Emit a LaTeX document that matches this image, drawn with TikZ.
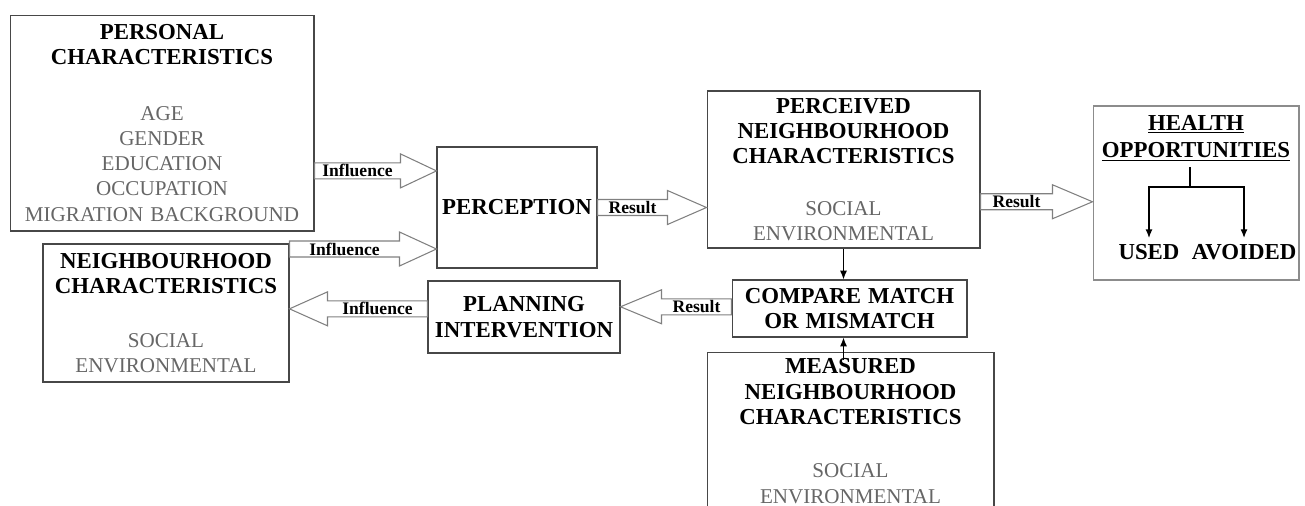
\documentclass[tikz,border=0pt]{standalone}
\usepackage{fontspec}
\setmainfont{Liberation Serif}
\usepackage{tikz}
\usetikzlibrary{arrows.meta,calc}

\definecolor{itemgray}{gray}{0.4}
\newcommand{\boxhead}{\fontsize{13}{14.4}\selectfont\bfseries\color{black}}
\newcommand{\boxitems}{\fontsize{12}{14.4}\selectfont\mdseries\color{itemgray}}

\tikzset{
  box/.style={draw=black!72, line width=0.6pt, inner sep=0pt, align=center,
    font=\fontsize{12}{14.4}\selectfont},
  fatarr/.style={draw=black!50, fill=white, line width=0.6pt},
  fatlbl/.style={inner sep=0pt, font=\fontsize{10}{12}\selectfont\bfseries},
  lbl/.style={font=\fontsize{13}{14.4}\selectfont\bfseries},
}

% block arrow: tail anchor, tip coordinate, head length (- right, + left), label
\newcommand{\fat}[4]{%
  \draw[fatarr] ($(#1 |- #2)+(0,-8)$) -- node[fatlbl, midway, yshift=-0.16cm] {#4}
    ($(#2)+(#3,-8)$) -- ++(0,-9) -- (#2) -- ($(#2)+(#3,17)$) -- ++(0,-9)
    -- ($(#1 |- #2)+(0,8)$) -- cycle;}

\begin{document}
\begin{tikzpicture}[x=0.02cm, y=-0.02cm, >={Latex[length=5pt,width=4pt]}]
    \useasboundingbox (0,0) rectangle (1305,505);
    \clip (0,0) rectangle (1305,505);

    % boxes
    \node[box, text width=6.08cm, minimum height=4.32cm] (pc) at (162,123)
        {\boxhead PERSONAL\\CHARACTERISTICS\\[17pt]\boxitems AGE\\GENDER\\EDUCATION\\OCCUPATION\\MIGRATION BACKGROUND};
    \node[box, text width=3.2cm, minimum height=2.42cm] (pe) at (517,207.5) {\boxhead PERCEPTION};
    \node[box, text width=5.46cm, minimum height=3.14cm] (pn) at (843.5,169.5)
        {\boxhead PERCEIVED\\NEIGHBOURHOOD\\CHARACTERISTICS\\[15pt]\boxitems SOCIAL\\ENVIRONMENTAL};
    \node[box, draw=black!45, minimum width=4.12cm, minimum height=3.48cm] (ho) at (1196,193) {};
    \node[lbl, align=center] (hl) at (1196,138) {\underline{HEALTH}\\[1pt]\underline{OPPORTUNITIES}};
    \node[lbl] (us) at (1149,252) {USED};
    \node[lbl] (av) at (1244,252) {AVOIDED};
    \node[box, text width=4.92cm, minimum height=2.76cm] (nc) at (166,313)
        {\boxhead NEIGHBOURHOOD\\CHARACTERISTICS\\[16pt]\boxitems SOCIAL\\ENVIRONMENTAL};
    \node[box, text width=3.84cm, minimum height=1.44cm] (pi) at (524,317) {\boxhead PLANNING\\INTERVENTION};
    \node[box, text width=4.7cm, minimum height=1.14cm] (cm) at (849.5,308.5) {\boxhead COMPARE MATCH\\OR MISMATCH};
    \node[box, text width=5.74cm, minimum height=3.14cm] (mn) at (850.5,431)
        {\boxhead MEASURED\\NEIGHBOURHOOD\\CHARACTERISTICS\\[16pt]\boxitems SOCIAL\\ENVIRONMENTAL};

    % arrow tips on the box sides
    \coordinate (t1) at ($(pe.north west)!0.2!(pe.south west)$);
    \coordinate (t2) at ($(pe.north west)!0.84!(pe.south west)$);
    \coordinate (t3) at (pn.west |- pe.east);
    \coordinate (t4) at ($(ho.north west)!0.55!(ho.south west)$);
    \coordinate (t5) at ($(pi.north east)!0.36!(pi.south east)$);
    \coordinate (t6) at ($(nc.north east)!0.47!(nc.south east)$);

    \fat{pc.east}{t1}{-36}{Influence}
    \fat{nc.east}{t2}{-37}{Influence}
    \fat{pe.east}{t3}{-39}{Result}
    \fat{pn.east}{t4}{-40}{Result}
    \fat{cm.west}{t5}{41}{Result}
    \fat{pi.west}{t6}{38}{Influence}

    \draw[->, line width=0.7pt] (pn.south) -- (pn.south |- cm.north);
    \draw[->, line width=0.7pt] ($(mn.north -| pn.south)+(0,8)$) -- (cm.south -| pn.south);

    \coordinate (fk) at ($(hl.south)+(-6,20)$);
    \draw[line width=0.8pt] (hl.south -| fk) -- (fk);
    \draw[->, line width=0.8pt] (fk) -| (us.north);
    \draw[->, line width=0.8pt] (fk) -| (av.north);
\end{tikzpicture}
\end{document}
